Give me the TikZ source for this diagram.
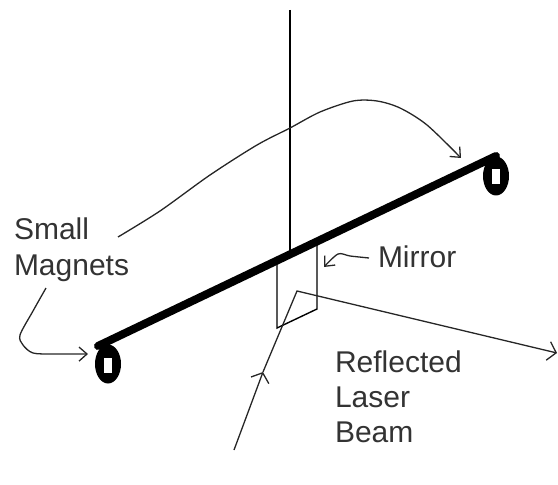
\documentclass[tikz,border=0pt]{standalone}
\usepackage{fontspec}
\setmainfont{Liberation Sans}
\usetikzlibrary{arrows.meta,shapes.geometric}
\tikzset{
  lbl/.style={inner sep=0pt,outer sep=0pt,anchor=base west,font=\fontsize{30bp}{35bp}\selectfont,text=black!80},
  thin line/.style={draw=black,line width=1.4bp},
  pointer/.style={draw=black!85,line width=1.3bp,-{Straight Barb[length=8bp,width=14bp,line width=1.3bp]}},
  wide pointer/.style={draw=black!85,line width=1.3bp,-{Straight Barb[length=8bp,width=19bp,line width=1.3bp]}},
  bar/.style={draw=black,line width=8bp,line cap=round},
  magnet/.style={ellipse,fill=black,inner sep=0pt,minimum width=26bp,minimum height=39bp},
  hole/.style={fill=white,inner sep=0pt,minimum width=8bp,minimum height=15bp}
}
\begin{document}
\begin{tikzpicture}[x=1bp,y=-1bp]
\useasboundingbox (0,0) rectangle (558,485);
% labels
\node[lbl] (small) at (14,239) {Small};
\node[lbl] (magnets) at (14,275) {Magnets};
\node[lbl] (mirror) at (378,267) {Mirror};
\node[lbl] (refl) at (335,372) {Reflected};
\node[lbl] (laser) at (335,407) {Laser};
\node[lbl] (beam) at (335,442) {Beam};
% anchor points
\coordinate (top) at (290,10);
\coordinate (pivot) at (290,252);
\coordinate (barL) at (98,346);
\coordinate (barR) at (496,156);
\coordinate (mTL) at (277,262);
\coordinate (mTR) at (317,243);
\coordinate (mBR) at (317,309);
\coordinate (mBL) at (277,328);
\coordinate (source) at (234,450);
\coordinate (mid) at (263,372);
\coordinate (hit) at (297,291);
\coordinate (out) at (557,353);
\coordinate (tipR) at (461,158);
\coordinate (tipL) at (88,354);
\coordinate (tipM) at (324,267);
% fibre and mirror
\draw[thin line] (top) -- (pivot);
\draw[thin line,line join=miter] (mTL) -- (mBL) -- (mBR) -- (mTR);
% magnets and bar
\node[magnet] (magL) at (108,364) {};
\node[hole] (holeL) at (108,365) {};
\node[magnet] (magR) at (496,176) {};
\node[hole] (holeR) at (496,177) {};
\draw[bar] (barL) -- (barR);
% laser beam
\draw[wide pointer] (source) -- (mid);
\draw[wide pointer] (mid) -- (hit) -- (out);
% label pointers
\draw[pointer] plot[smooth,tension=0.5] coordinates {(118,237) (160,211) (210,175) (257,145) (290,128) (320,112) (353,101) (377,101) (400,108) (427,125) (tipR)};
\draw[pointer] plot[smooth,tension=0.5] coordinates {(46,288) (33,311) (20,335) (23,345) (33,353) (53,354) (tipL)};
\draw[pointer] plot[smooth,tension=0.5] coordinates {(369,258) (350,256) (338,254) (tipM)};
\end{tikzpicture}
\end{document}
